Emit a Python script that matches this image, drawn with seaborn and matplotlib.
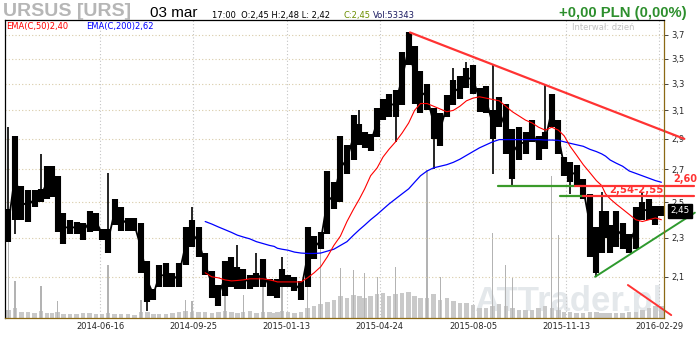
import numpy as np
import pandas as pd
import matplotlib
matplotlib.use("Agg")
import matplotlib.pyplot as plt
import matplotlib.transforms as mtransforms
from matplotlib.ticker import NullLocator
import seaborn as sns

# --- data -------------------------------------------------------------
# GPW trading calendar
holidays = ["2014-04-18", "2014-04-21", "2014-05-01", "2014-06-19", "2014-08-15",
            "2014-11-11", "2014-12-24", "2014-12-25", "2014-12-26", "2014-12-31",
            "2015-01-01", "2015-01-06", "2015-04-03", "2015-04-06", "2015-05-01",
            "2015-06-04", "2015-11-11", "2015-12-24", "2015-12-25", "2015-12-31",
            "2016-01-01", "2016-01-06", "2016-03-25", "2016-03-28"]
first_day = "2014-03-03"
last_day = "2016-03-03"

# weekly trading band low / high (PLN), weeks starting 2014-03-03
week_low = [2.28, 2.40, 2.40, 2.39, 2.47, 2.50, 2.52, 2.53, 2.33, 2.27,
            2.32, 2.32, 2.29, 2.33, 2.34, 2.29, 2.22, 2.37, 2.34, 2.34,
            2.34, 2.12, 1.98, 1.99, 2.05, 2.05, 2.05, 2.05, 2.16, 2.25,
            2.20, 2.11, 2.00, 1.96, 2.01, 2.05, 2.04, 2.04, 2.04, 2.05,
            2.05, 2.01, 2.01, 2.00, 2.05, 2.05, 2.03, 1.99, 2.05, 2.19,
            2.24, 2.32, 2.46, 2.50, 2.67, 2.76, 2.86, 2.84, 2.82, 2.91,
            3.03, 3.05, 3.05, 3.14, 3.45, 3.15, 3.08, 3.10, 2.90, 2.85,
            3.05, 3.14, 3.18, 3.27, 3.22, 3.09, 3.08, 2.90, 2.98, 2.80,
            2.64, 2.76, 2.80, 2.88, 2.76, 2.83, 2.98, 2.80, 2.66, 2.62,
            2.60, 2.52, 2.20, 2.12, 2.22, 2.30, 2.22, 2.25, 2.24, 2.22,
            2.24, 2.40, 2.40, 2.37, 2.42]
week_high = [2.46, 2.92, 2.60, 2.57, 2.57, 2.58, 2.72, 2.72, 2.66, 2.44,
             2.40, 2.39, 2.38, 2.45, 2.44, 2.35, 2.35, 2.52, 2.47, 2.41,
             2.41, 2.38, 2.18, 2.04, 2.16, 2.17, 2.12, 2.17, 2.36, 2.40,
             2.36, 2.22, 2.13, 2.06, 2.18, 2.20, 2.15, 2.14, 2.11, 2.12,
             2.19, 2.09, 2.08, 2.09, 2.14, 2.11, 2.10, 2.08, 2.36, 2.31,
             2.33, 2.69, 2.62, 2.92, 2.86, 3.07, 3.00, 2.95, 2.93, 3.12,
             3.18, 3.22, 3.25, 3.55, 3.72, 3.60, 3.40, 3.30, 3.12, 3.08,
             3.21, 3.33, 3.36, 3.42, 3.45, 3.27, 3.28, 3.10, 3.20, 3.15,
             2.97, 2.98, 2.95, 3.03, 2.92, 2.95, 3.22, 3.03, 2.78, 2.75,
             2.73, 2.64, 2.55, 2.36, 2.45, 2.45, 2.37, 2.45, 2.38, 2.32,
             2.47, 2.50, 2.52, 2.48, 2.48]

# single-session spikes outside the weekly band
spike_up_weeks = [0, 5, 16, 29, 36, 39, 44, 56, 71, 73, 77, 85, 94, 101]
spike_up_vals = [2.98, 2.80, 2.68, 2.47, 2.26, 2.22, 2.20, 3.10, 3.42, 3.47, 3.45, 3.29, 2.56, 2.56]
spike_dn_weeks = [1, 22, 62, 68, 77, 80, 89, 93]
spike_dn_vals = [2.32, 1.94, 2.88, 2.70, 2.67, 2.60, 2.55, 2.10]

# EMA values, from week 31 on
ema_first_week = 31
ema50 = [2.12, 2.10, 2.095, 2.085, 2.08, 2.082, 2.085, 2.09, 2.09, 2.09,
         2.085, 2.08, 2.075, 2.075, 2.075, 2.075, 2.075, 2.095, 2.12, 2.15,
         2.20, 2.26, 2.31, 2.39, 2.46, 2.52, 2.58, 2.66, 2.71, 2.78,
         2.83, 2.88, 2.94, 3.01, 3.10, 3.15, 3.15, 3.13, 3.11, 3.09,
         3.10, 3.13, 3.17, 3.19, 3.20, 3.19, 3.18, 3.17, 3.13, 3.09,
         3.06, 3.03, 3.01, 2.98, 2.96, 2.98, 2.96, 2.92, 2.85, 2.79,
         2.73, 2.68, 2.63, 2.60, 2.55, 2.52, 2.49, 2.46, 2.43, 2.40,
         2.39, 2.40, 2.41, 2.40]
ema200 = [2.39, 2.376, 2.36, 2.345, 2.33, 2.315, 2.305, 2.295, 2.28, 2.27,
          2.26, 2.255, 2.245, 2.24, 2.235, 2.225, 2.22, 2.218, 2.218, 2.22,
          2.23, 2.24, 2.26, 2.28, 2.315, 2.345, 2.37, 2.40, 2.43, 2.46,
          2.49, 2.52, 2.55, 2.58, 2.62, 2.66, 2.69, 2.71, 2.72, 2.73,
          2.745, 2.765, 2.79, 2.815, 2.84, 2.86, 2.88, 2.895, 2.895, 2.895,
          2.895, 2.895, 2.895, 2.895, 2.892, 2.892, 2.89, 2.88, 2.87, 2.86,
          2.85, 2.83, 2.815, 2.80, 2.785, 2.76, 2.74, 2.72, 2.69, 2.675,
          2.66, 2.645, 2.63, 2.62]

# volume, thousands of shares: typical session per week + the big sessions
vol_typical = [80, 100, 60, 60, 50, 70, 50, 50, 60, 40,
               40, 40, 50, 50, 40, 40, 50, 40, 40, 40,
               30, 60, 60, 40, 40, 40, 50, 60, 70, 60,
               60, 60, 50, 60, 70, 60, 50, 60, 70, 50,
               60, 60, 50, 60, 70, 60, 50, 60, 100, 120,
               140, 160, 180, 220, 200, 230, 220, 200, 220, 240,
               250, 220, 240, 250, 260, 220, 200, 200, 240, 180,
               200, 170, 150, 150, 130, 100, 100, 120, 140, 120,
               100, 80, 80, 80, 100, 120, 100, 80, 60, 60,
               50, 50, 60, 60, 50, 50, 50, 50, 50, 60,
               60, 80, 100, 120, 120]
spike_weeks = [0, 1, 5, 8, 16, 21, 28, 29, 34, 37, 40, 44, 48, 50, 53,
               55, 57, 59, 62, 67, 69, 77, 79, 80, 86, 87]
spike_vol = [850, 370, 320, 170, 530, 180, 180, 170, 300, 230, 370, 320, 380, 770, 500,
             480, 450, 410, 510, 1480, 410, 850, 530, 400, 1420, 830]

# drawn levels and trend lines
level_hi = 2.60
level_hi_dates = ["2015-09-01", "2015-11-24", "2016-04-07"]
level_lo = 2.54
level_lo_dates = ["2015-11-05", "2015-12-02", "2016-04-07"]
resist_dates, resist_vals = ["2015-05-28", "2016-03-29"], [3.72, 2.90]
support_dates, support_vals = ["2015-12-15", "2016-04-08"], [2.10, 2.44]
down_dates, down_vals = ["2016-01-26", "2016-03-11"], [2.06, 1.92]

tick_dates = ["2014-06-16", "2014-09-25", "2015-01-13", "2015-04-24",
              "2015-08-05", "2015-11-13", "2016-02-29"]
price_ticks = [2.1, 2.3, 2.5, 2.7, 2.9, 3.1, 3.3, 3.5, 3.7]

# --- calendar / positions ---------------------------------------------
cal = pd.bdate_range(first_day, "2016-04-29", freq="C", holidays=holidays)
n_days = int(cal.searchsorted(pd.Timestamp(last_day))) + 1
days = cal[:n_days]
week_centers = pd.Series(np.arange(n_days)).groupby(days.to_period("W-SUN")).mean().values


def pos(dates):
    return cal.searchsorted(pd.to_datetime(dates))


# --- figure -----------------------------------------------------------
sns.set_style("white")
plt.rcParams["font.family"] = ["DejaVu Sans"]

fig = plt.figure(figsize=(7, 3.4), dpi=100)
ax = fig.add_axes([5 / 700, 22 / 340, 659 / 700, 298 / 340])
vax = ax.twinx()
ax.set_zorder(vax.get_zorder() + 1)
ax.patch.set_visible(False)

# volume
vax.bar(week_centers, vol_typical, width=3.4, color="#c9c9c9", linewidth=0, zorder=2)
vax.bar(week_centers[spike_weeks], spike_vol, width=1.0, color="#b3b3b3", linewidth=0, zorder=3)
vax.set_ylim(0, 2980)
vax.axis("off")
vax.text(0.997, 0.024, "ATTrader.pl", transform=vax.transAxes, ha="right", va="baseline",
         fontsize=25, fontweight="bold", family="Liberation Sans", color="#e4e8eb", zorder=1)

# price
mid = (np.array(week_low) + np.array(week_high)) / 2
ax.plot(week_centers, mid, color="black", linewidth=1.3)
ax.vlines(week_centers, week_low, week_high, color="black", linewidth=4.4)
ax.vlines(week_centers[spike_up_weeks], np.array(week_high)[spike_up_weeks], spike_up_vals,
          color="black", linewidth=1.2)
ax.vlines(week_centers[spike_dn_weeks], spike_dn_vals, np.array(week_low)[spike_dn_weeks],
          color="black", linewidth=1.2)
sns.lineplot(x=week_centers[ema_first_week:], y=ema200, ax=ax, color="#0000ff",
             linewidth=0.9, legend=False)
sns.lineplot(x=week_centers[ema_first_week:], y=ema50, ax=ax, color="#ff0000",
             linewidth=0.8, legend=False)

# levels / trend lines
g, r = "#3a9a2a", "#ff3333"
hx = pos(level_hi_dates)
ax.plot(hx[:2], [level_hi] * 2, color=g, lw=1.6, clip_on=False)
ax.plot(hx[1:], [level_hi] * 2, color=r, lw=1.6, clip_on=False)
lx = pos(level_lo_dates)
ax.plot(lx[:2], [level_lo] * 2, color=g, lw=1.6, clip_on=False)
ax.plot(lx[1:], [level_lo] * 2, color=r, lw=1.6, clip_on=False)
ax.plot(pos(resist_dates), resist_vals, color=r, lw=1.6, clip_on=False)
ax.plot(pos(support_dates), support_vals, color="#2e9a2e", lw=1.4, clip_on=False)
ax.plot(pos(down_dates), down_vals, color=r, lw=1.4, clip_on=False)

# axes look
ax.set_yscale("log")
ax.set_ylim(1.907, 3.83)
ax.set_xlim(-0.5, n_days - 0.5)
ax.yaxis.set_minor_locator(NullLocator())
ax.set_yticks(price_ticks)
ax.set_yticklabels([f"{v:.1f}".replace(".", ",") for v in price_ticks])
ax.yaxis.tick_right()
ax.set_xticks(pos(tick_dates))
ax.set_xticklabels(tick_dates)
ax.tick_params(axis="x", length=0, pad=3, labelsize=6)
ax.tick_params(axis="y", length=3, width=0.6, direction="out", pad=2.5, labelsize=6)
ax.grid(axis="y", color="#d8cba8", linestyle=(0, (1, 2)), linewidth=0.8)
ax.grid(axis="x", color="#c4c4c4", linestyle=(0, (1, 2)), linewidth=0.8)
for side, col in [("top", "black"), ("left", "black"), ("bottom", "#8b6914"), ("right", "#8b6914")]:
    ax.spines[side].set_color(col)
    ax.spines[side].set_linewidth(0.9)

# value labels at the right edge
tr = mtransforms.blended_transform_factory(ax.transAxes, ax.transData)
ax.text(1.0137, 2.638, "2,60", transform=tr, ha="left", va="center", color=r,
        fontsize=7, fontweight="bold")
ax.text(0.999, 2.574, "2,54-2,55", transform=tr, ha="right", va="center", color=r,
        fontsize=7.3, fontweight="bold")
ax.text(1.0095, 2.45, "2,45", transform=tr, ha="left", va="center", color="white",
        fontsize=6.3, bbox=dict(boxstyle="square,pad=0.25", fc="black", ec="black"))

# header
def ftext(x, y, s, **kw):
    fig.text(x / 700, 1 - y / 340, s, va="center", **kw)

ftext(3, 12, "URSUS [URS]", fontsize=14, fontweight="bold", family="Liberation Sans", color="#b6b6b6")
ftext(150, 13, "03 mar", fontsize=11, family="Liberation Sans", color="black")
ftext(212, 15.5, "17:00  O:2,45 H:2,48 L: 2,42", fontsize=6, color="black")
ftext(343, 15.5, "C:2,45", fontsize=6, color="#6b8e00")
ftext(373, 15.5, "Vol:53343", fontsize=6, color="#1a1a60")
ftext(687, 13, "+0,00 PLN (0,00%)", fontsize=10.7, fontweight="bold", family="Liberation Sans",
      color="#2d8f2d", ha="right")
ftext(6, 26, "EMA(C,50)2,40", fontsize=6, color="#ff0000")
ftext(86, 26, "EMA(C,200)2,62", fontsize=6, color="#0000ff")
ftext(572, 27, "Interwał: dzień", fontsize=6, color="#c0c0c0")

fig.savefig("out.png", dpi=100)
